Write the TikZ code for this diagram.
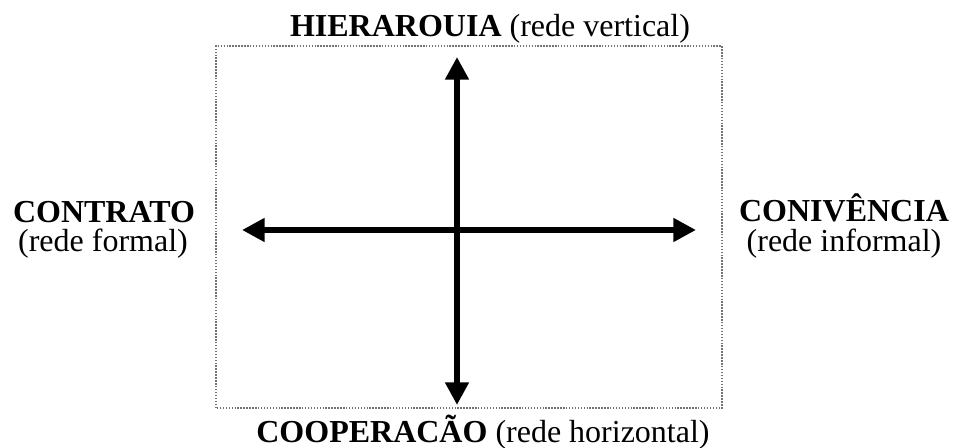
\documentclass[tikz,border=0pt]{standalone}
\usepackage{fontspec}
\setmainfont{Liberation Serif}
\usetikzlibrary{arrows.meta,positioning}

\tikzset{
  axisarrow/.style={line width=4.8pt, {Triangle[length=17pt,width=17pt]}-{Triangle[length=17pt,width=17pt]}},
  axislabel/.style={anchor=base, inner sep=0pt, font=\fontsize{24}{21}\selectfont},
  framebox/.style={black!55, line width=0.8pt, dash pattern=on 1.1pt off 1.1pt}
}

\begin{document}
\begin{tikzpicture}[x=0.75pt, y=0.75pt]
    \useasboundingbox (0,0) rectangle (954,448);

    % Dotted frame
    \draw[framebox] (216,40) rectangle (722,402);

    % Axis end points
    \coordinate (top) at (457,391);
    \coordinate (bottom) at (457,43);
    \coordinate (left) at (242,218);
    \coordinate (right) at (696,218);

    % Axes
    \draw[axisarrow] (bottom) -- (top);
    \draw[axisarrow] (left) -- (right);

    % Labels
    \node[axislabel] (hierarquia) at (490,411) {\textbf{HIERAROUIA} (rede vertical)};
    \node[axislabel] (cooperacao) at (483,5) {\textbf{COOPERACÃO} (rede horizontal)};
    \node[axislabel] (contrato) at (104,225) {\textbf{CONTRATO}};
    \node[axislabel] (formal) at (103,196) {(rede formal)};
    \node[axislabel] (conivencia) at (844,226) {\textbf{CONIVÊNCIA}};
    \node[axislabel] (informal) at (844,196) {(rede informal)};

\end{tikzpicture}
\end{document}
